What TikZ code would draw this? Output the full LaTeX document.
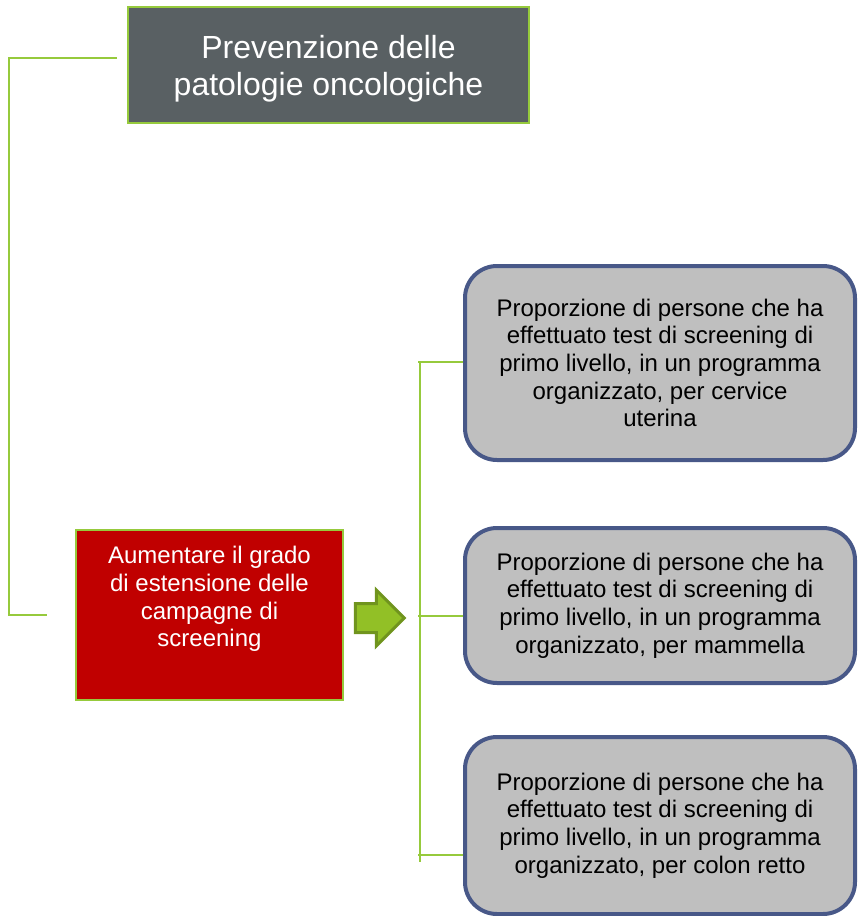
\documentclass[tikz,border=0pt]{standalone}
\usepackage{fontspec}
\setmainfont{Liberation Sans}
\usetikzlibrary{shapes.arrows}
\definecolor{leaf}{RGB}{150,202,60}
\definecolor{slate}{RGB}{89,96,99}
\definecolor{alarm}{RGB}{192,0,0}
\definecolor{cloud}{RGB}{191,191,191}
\definecolor{navy}{RGB}{72,88,136}
\definecolor{olive}{RGB}{112,148,30}
\definecolor{lime}{RGB}{146,192,38}
\begin{document}
\begin{tikzpicture}
  [x=0.5pt,y=-0.5pt,
   every node/.style={inner sep=0pt,align=center},
   link/.style={draw=leaf,line width=1.4pt},
   topbox/.style={rectangle,draw=leaf,line width=1pt,fill=slate,text=white,
     minimum width=200.5pt,minimum height=58pt,
     font=\fontsize{16}{18.5}\selectfont},
   goalbox/.style={rectangle,draw=leaf,line width=1pt,fill=alarm,
     minimum width=133.5pt,minimum height=85pt},
   goaltext/.style={text=white,font=\fontsize{12}{13.85}\selectfont},
   indbox/.style={rectangle,rounded corners=16pt,draw=navy,line width=2pt,fill=cloud,
     minimum width=195pt,font=\fontsize{12}{13.8}\selectfont}]
  \useasboundingbox (0,0) rectangle (858,916);

  \node[topbox,text depth=-1.5pt] (area) at (328.5,65) {Prevenzione delle\\patologie oncologiche};
  \node[goalbox] (goal) at (209.5,615) {};
  \node[goaltext,anchor=north] (goaltxt) at (209.5,546)
    {Aumentare il grado\\di estensione delle\\campagne di\\screening};

  \node[single arrow,draw=olive,fill=lime,line width=1.5pt,
    minimum height=24.5pt,minimum width=26.5pt,inner sep=6.5pt,
    single arrow head extend=6.75pt] (go) at (372.5,618) {};

  \node[indbox,minimum height=97pt] (b1) at (660,363)
    {Proporzione di persone che ha\\effettuato test di screening di\\primo livello, in un programma\\organizzato, per cervice\\uterina};
  \node[indbox,minimum height=77.5pt] (b2) at (660,605.5)
    {Proporzione di persone che ha\\effettuato test di screening di\\primo livello, in un programma\\organizzato, per mammella};
  \node[indbox,minimum height=88.5pt] (b3) at (660,825.5)
    {Proporzione di persone che ha\\effettuato test di screening di\\primo livello, in un programma\\organizzato, per colon retto};

  \draw[link] ([shift={(-10,-7)}]area.west) -| (9,615) -- ([xshift=-14pt]goal.west);

  \coordinate (spinetop) at (420,361);
  \coordinate (spinebot) at (420,862);
  \draw[link] (spinetop) -- (spinebot);
  \foreach \b/\dy in {b1/0.5pt,b2/-5.25pt,b3/-14.75pt}
    \draw[link] ([yshift=\dy]\b.west) -- ++(-45,0);

\end{tikzpicture}
\end{document}
